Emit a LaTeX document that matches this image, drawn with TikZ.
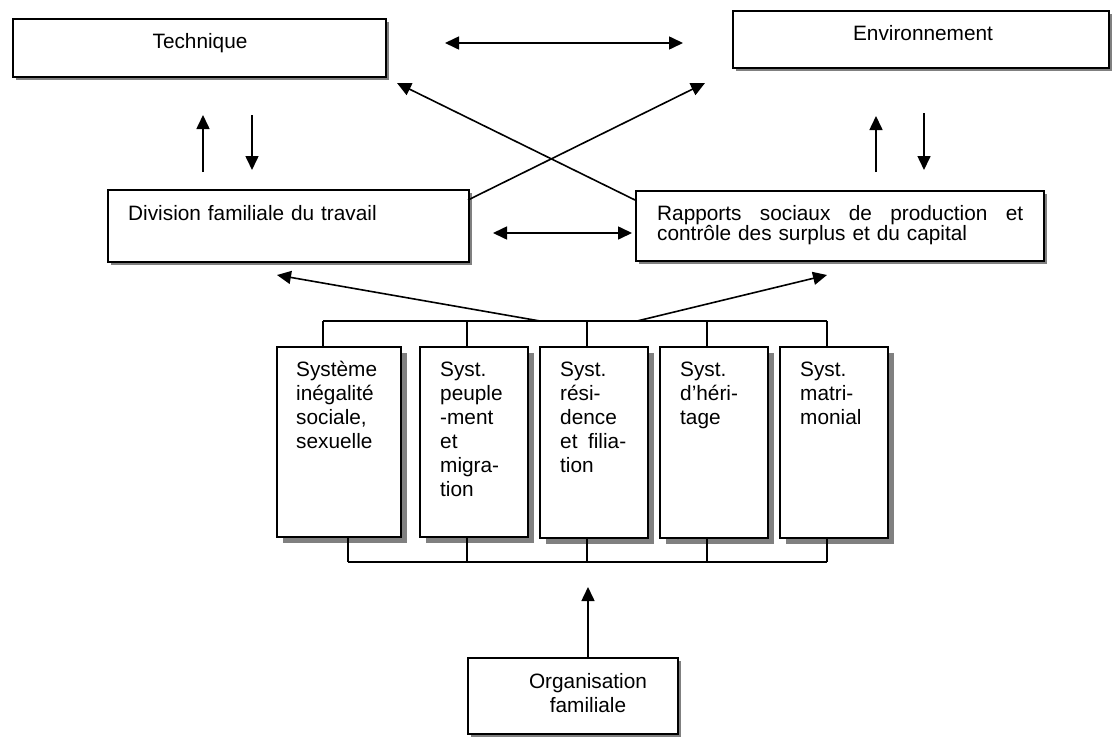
\documentclass[tikz,border=0pt]{standalone}
\usepackage{fontspec}
\setmainfont{Liberation Sans}
\usetikzlibrary{arrows.meta,shadows}
\begin{document}
\begin{tikzpicture}[x=1pt,y=-1pt,
  font=\fontsize{20.8}{24}\selectfont,
  box/.style={draw, line width=1.6pt, fill=white, anchor=north west, inner sep=0pt},
  shad/.style={drop shadow={shadow xshift=3.5pt, shadow yshift=-3.5pt, fill=black!50, opacity=1}},
  bigshad/.style={drop shadow={shadow xshift=6pt, shadow yshift=-6pt, fill=black!50, opacity=1}},
  lbl/.style={inner sep=0pt, anchor=base west, text width=#1, align=left},
  lbl/.default=150pt,
  conn/.style={line width=1.6pt, -{Triangle[length=14pt,width=13pt]}},
  dconn/.style={line width=1.6pt, {Triangle[length=14pt,width=13pt]}-{Triangle[length=14pt,width=13pt]}},
  bus/.style={line width=1.3pt}
]
\useasboundingbox (0,0) rectangle (1118,736);

% top boxes
\node[box, shad, minimum width=373pt, minimum height=58pt] (tech) at (12,18) {};
\node[inner sep=0pt, anchor=base] (techT) at (200,48) {Technique};
\node[box, shad, minimum width=376pt, minimum height=57pt] (env) at (732,10) {};
\node[inner sep=0pt, anchor=base] (envT) at (923,40) {Environnement};

% middle boxes
\node[box, shad, minimum width=361pt, minimum height=72pt] (div) at (107,189) {};
\node[lbl=320pt] (divT) at (128,220) {Division familiale du travail};
\node[box, shad, minimum width=408pt, minimum height=70pt] (rap) at (635,190) {};
\node[lbl=380pt, font=\fontsize{20.8}{18.5}\selectfont] (rapT) at (657,220) {\leavevmode\hbox to 366pt{Rapports\hfill sociaux\hfill de\hfill production\hfill et}\\contrôle des surplus et du capital};

% five boxes
\node[box, bigshad, minimum width=124pt, minimum height=190pt] (s1) at (276,346) {};
\node[box, bigshad, minimum width=108pt, minimum height=190pt] (s2) at (419,346) {};
\node[box, bigshad, minimum width=108pt, minimum height=191pt] (s3) at (539,346) {};
\node[box, bigshad, minimum width=108pt, minimum height=191pt] (s4) at (659,346) {};
\node[box, bigshad, minimum width=108pt, minimum height=191pt] (s5) at (779,346) {};
\node[lbl=100pt] (s1T) at (296,376) {Système\\inégalité\\sociale,\\sexuelle};
\node[lbl=85pt] (s2T) at (440,376) {Syst.\\peuple\\-ment\\et\\migra-\\tion};
\node[lbl=85pt] (s3T) at (560,376) {Syst.\\rési-\\dence\\\leavevmode\hbox to 66pt{et\hfill filia-}\\tion};
\node[lbl=85pt] (s4T) at (680,376) {Syst.\\d’héri-\\tage};
\node[lbl=85pt] (s5T) at (800,376) {Syst.\\matri-\\monial};

% bottom box
\node[box, shad, minimum width=210pt, minimum height=76pt] (org) at (467,657) {};
\node[inner sep=0pt, anchor=base, text width=200pt, align=center] (orgT) at (588,688) {Organisation\\familiale};

% coordinates
\coordinate (ta1) at (445,43);
\coordinate (ta2) at (683,43);
\coordinate (ma1) at (493,233);
\coordinate (ma2) at (632,233);
\coordinate (tu0) at (203,172);
\coordinate (tu1) at (203,115);
\coordinate (td0) at (252,115);
\coordinate (td1) at (252,170);
\coordinate (eu0) at (876,172);
\coordinate (eu1) at (876,116);
\coordinate (ed0) at (924,113);
\coordinate (ed1) at (924,170);
\coordinate (x1s) at (635,200);
\coordinate (x1e) at (397,83);
\coordinate (x2s) at (468,200);
\coordinate (x2e) at (705,83);
\coordinate (bt1) at (323,321);
\coordinate (bt2) at (827,321);
\coordinate (bb1) at (348,562);
\coordinate (bb2) at (827,562);
\coordinate (fa0) at (540,321);
\coordinate (fa1) at (277,275);
\coordinate (fb0) at (637,321);
\coordinate (fb1) at (827,275);
\coordinate (oa) at (588,587);

% arrows
\draw[dconn] (ta1) -- (ta2);
\draw[dconn] (ma1) -- (ma2);
\draw[conn] (tu0) -- (tu1);
\draw[conn] (td0) -- (td1);
\draw[conn] (eu0) -- (eu1);
\draw[conn] (ed0) -- (ed1);
\draw[conn] (x1s) -- (x1e);
\draw[conn] (x2s) -- (x2e);

% top bus
\draw[bus] (bt1) -- (bt2);
\draw[bus] (bt1) -- (bt1 |- s1.north);
\draw[bus] (467,321) -- (467,346);
\draw[bus] (587,321) -- (587,346);
\draw[bus] (707,321) -- (707,346);
\draw[bus] (bt2) -- (bt2 |- s5.north);
\draw[conn] (fa0) -- (fa1);
\draw[conn] (fb0) -- (fb1);

% bottom bus
\draw[bus] (bb1) -- (bb2);
\draw[bus] (bb1) -- (bb1 |- s1.south);
\draw[bus] (467,562) -- (467,536);
\draw[bus] (587,562) -- (587,537);
\draw[bus] (707,562) -- (707,537);
\draw[bus] (bb2) -- (bb2 |- s5.south);
\draw[conn] (org.north -| oa) -- (oa);
\end{tikzpicture}
\end{document}
